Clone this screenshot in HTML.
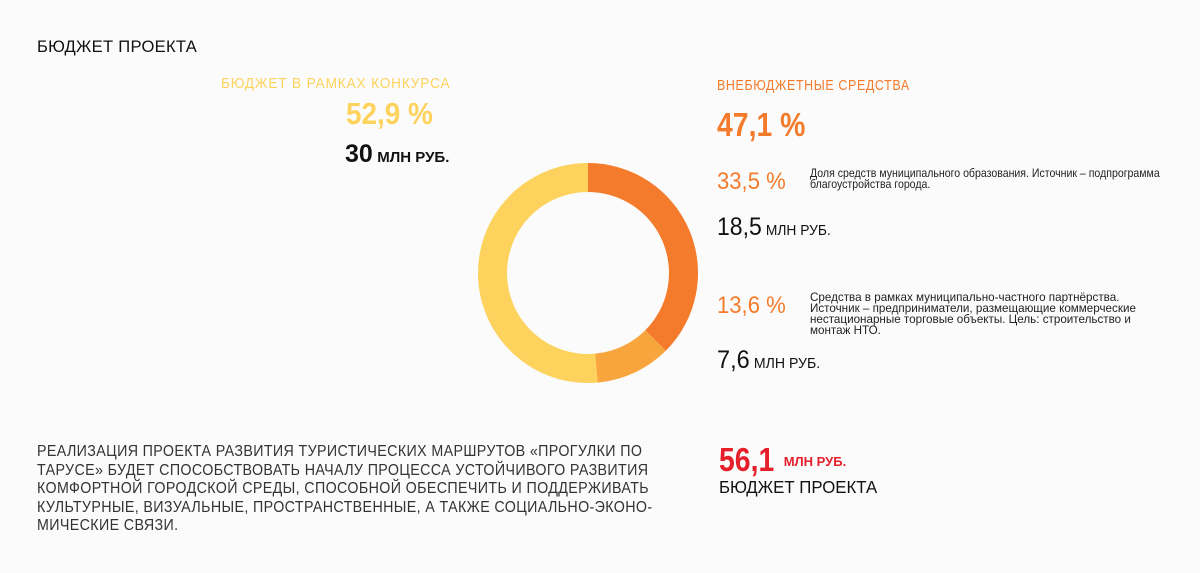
<!DOCTYPE html>
<html><head><meta charset="utf-8">
<style>
html,body{margin:0;padding:0}
body{width:1200px;height:573px;background:#fbfbfb;position:relative;overflow:hidden;font-family:"Liberation Sans Narrow","Liberation Sans",sans-serif;color:#111}
.a{position:absolute;white-space:nowrap;line-height:1;transform-origin:0 0}
.y{color:#fdd35e}.o{color:#f47b2b}.r{color:#e5202a}
.desc{position:absolute;font-size:12px;line-height:11px;color:#222;white-space:nowrap;transform-origin:0 0}
</style></head><body>
<div class="a" style="left:37px;top:38px;font-size:17px;letter-spacing:0.3px;color:#111;transform:scaleX(0.975)">БЮДЖЕТ ПРОЕКТА</div>

<div class="a y" style="left:221px;top:77px;font-size:14.5px;letter-spacing:0.9px;transform:scaleX(0.94)">БЮДЖЕТ В РАМКАХ КОНКУРСА</div>
<div class="a y" style="left:346px;top:98px;font-size:31px;font-weight:bold;transform:scaleX(0.9)">52,9 %</div>
<div class="a" style="left:345px;top:142px;font-weight:bold"><span style="font-size:25px">30</span> <span style="font-size:15px">МЛН РУБ.</span></div>

<div class="a o" style="left:717px;top:79px;font-size:14.5px;letter-spacing:0.7px;transform:scaleX(0.86)">ВНЕБЮДЖЕТНЫЕ СРЕДСТВА</div>
<div class="a o" style="left:717px;top:108px;font-size:33px;font-weight:bold;transform:scaleX(0.86)">47,1 %</div>

<div class="a o" style="left:717px;top:170px;font-size:24px;transform:scaleX(0.92)">33,5 %</div>
<div class="desc" style="left:810px;top:168px;transform:scaleX(0.88)">Доля средств муниципального образования. Источник – подпрограмма<br>благоустройства города.</div>
<div class="a" style="left:717px;top:215px;transform:scaleX(0.92)"><span style="font-size:25px">18,5</span> <span style="font-size:15px">МЛН РУБ.</span></div>

<div class="a o" style="left:717px;top:294px;font-size:24px;transform:scaleX(0.92)">13,6 %</div>
<div class="desc" style="left:810px;top:292px;transform:scaleX(0.97)">Средства в рамках муниципально-частного партнёрства.<br>Источник – предприниматели, размещающие коммерческие<br>нестационарные торговые объекты. Цель: строительство и<br>монтаж НТО.</div>
<div class="a" style="left:717px;top:348px;transform:scaleX(0.94)"><span style="font-size:25px">7,6</span> <span style="font-size:15px">МЛН РУБ.</span></div>

<svg id="donut" style="position:absolute;left:0;top:0" width="1200" height="573"></svg>

<div class="a" style="left:37px;top:443px;font-size:15.5px;line-height:18.6px;letter-spacing:0.4px;color:#333;transform:scaleX(0.92)">РЕАЛИЗАЦИЯ ПРОЕКТА РАЗВИТИЯ ТУРИСТИЧЕСКИХ МАРШРУТОВ «ПРОГУЛКИ ПО<br>ТАРУСЕ» БУДЕТ СПОСОБСТВОВАТЬ НАЧАЛУ ПРОЦЕССА УСТОЙЧИВОГО РАЗВИТИЯ<br>КОМФОРТНОЙ ГОРОДСКОЙ СРЕДЫ, СПОСОБНОЙ ОБЕСПЕЧИТЬ И ПОДДЕРЖИВАТЬ<br>КУЛЬТУРНЫЕ, ВИЗУАЛЬНЫЕ, ПРОСТРАНСТВЕННЫЕ, А ТАКЖЕ СОЦИАЛЬНО-ЭКОНО-<br>МИЧЕСКИЕ СВЯЗИ.</div>

<div class="a r" style="left:719px;top:443px;font-weight:bold"><span style="font-size:33px;display:inline-block;transform:scaleX(0.86);transform-origin:0 0;margin-right:-4px">56,1</span> <span style="font-size:13px;vertical-align:5px">МЛН РУБ.</span></div>
<div class="a" style="left:719px;top:479px;font-size:17.5px;color:#111;transform:scaleX(0.96)">БЮДЖЕТ ПРОЕКТА</div>

<script>
const sliceNames = ["municipal", "ppp", "contest"];
const sliceShares = [37.5, 11.1, 51.4];
const sliceColors = ["#f47b2b", "#f8a53d", "#fdd35e"];
const svg = document.getElementById('donut');
const cx = 588, cy = 273, R = 110, r = 81;
const total = sliceShares.reduce((a, b) => a + b, 0);
function pt(rad, frac) {
  const ang = frac * 2 * Math.PI - Math.PI / 2;
  return [cx + rad * Math.cos(ang), cy + rad * Math.sin(ang)];
}
let acc = 0;
sliceShares.forEach((v, i) => {
  const f0 = acc / total, f1 = (acc + v) / total;
  acc += v;
  const large = (f1 - f0) > 0.5 ? 1 : 0;
  const [x0, y0] = pt(R, f0), [x1, y1] = pt(R, f1), [x2, y2] = pt(r, f1), [x3, y3] = pt(r, f0);
  const p = document.createElementNS("http://www.w3.org/2000/svg", "path");
  p.setAttribute("d", `M${x0},${y0} A${R},${R} 0 ${large} 1 ${x1},${y1} L${x2},${y2} A${r},${r} 0 ${large} 0 ${x3},${y3} Z`);
  p.setAttribute("fill", sliceColors[i]);
  
  
  svg.appendChild(p);
});
</script>
</body></html>
